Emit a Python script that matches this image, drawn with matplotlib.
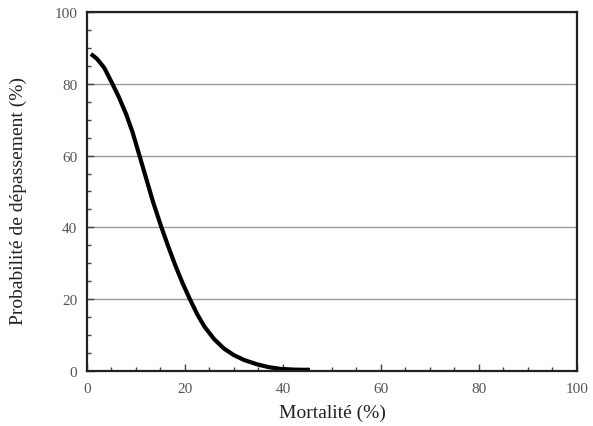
import matplotlib
matplotlib.use("Agg")
import matplotlib.pyplot as plt
from matplotlib.ticker import MultipleLocator

# ---- data ----
mortalite = [0.8, 2, 3.5, 5, 6.5, 8, 9.3, 10.6, 12, 13.5, 15.2, 16.5, 18, 19.5, 21,
             22.5, 24, 26, 28, 30, 32, 34.6, 37, 39.4, 42, 45.5]
probabilite = [88.3, 87, 84.5, 80.5, 76.3, 71.5, 66.5, 60.5, 54, 47, 40, 35, 29.5, 24.5, 20,
               15.8, 12.3, 8.8, 6.2, 4.4, 3.1, 1.9, 1.1, 0.6, 0.4, 0.3]

plt.rcParams['font.family'] = ['Liberation Serif', 'DejaVu Serif']

fig = plt.figure(figsize=(5.93, 4.27), dpi=100)
ax = fig.add_axes([0.1467, 0.1288, 0.8263, 0.8408])

ax.plot(mortalite, probabilite, color='black', lw=3, solid_capstyle='butt', solid_joinstyle='round')

ax.set_xlim(0, 100)
ax.set_ylim(0, 100)
ax.xaxis.set_major_locator(MultipleLocator(20))
ax.xaxis.set_minor_locator(MultipleLocator(5))
ax.yaxis.set_major_locator(MultipleLocator(20))
ax.yaxis.set_minor_locator(MultipleLocator(5))
ax.tick_params(which='both', direction='in', colors='#444444', labelcolor='#555555', labelsize=11)
ax.tick_params(which='major', length=5, width=1)
ax.tick_params(which='minor', length=3, width=1)
ax.tick_params(axis='x', pad=8)
ax.tick_params(axis='y', pad=7)
ax.grid(axis='y', color='#999999', lw=1)
ax.set_axisbelow(True)
for s in ax.spines.values():
    s.set_linewidth(1.6)
    s.set_color('#222222')

ax.set_xlabel('Mortalité (%)', fontsize=14, color='#222222')
ax.set_ylabel('Probabilité de dépassement (%)', fontsize=14, color='#222222')
ax.xaxis.set_label_coords(0.5, -0.09)
ax.yaxis.set_label_coords(-0.122, 0.476)

fig.savefig('out.png', dpi=100)
